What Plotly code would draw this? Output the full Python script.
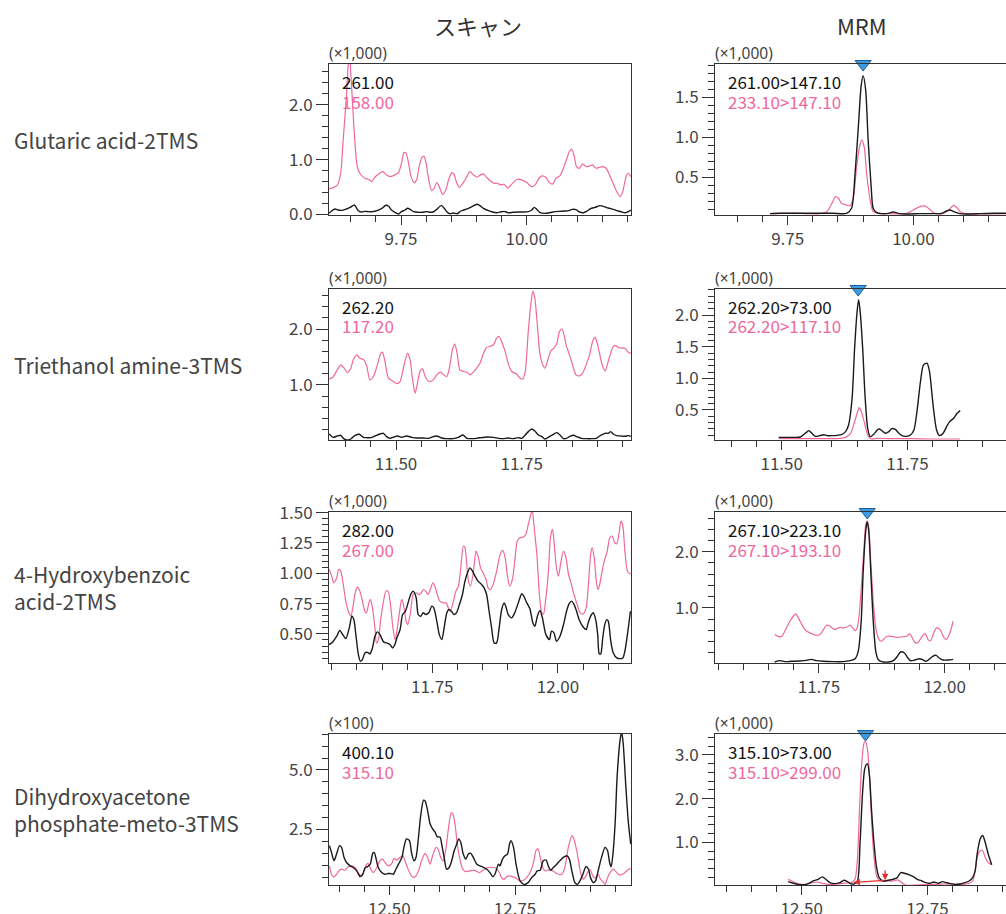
import plotly.graph_objects as go

W, H = 1006, 914
BLACK = "#1a1a1a"
PINK = "#f0679e"
FONT = "Noto Sans CJK JP"

# ---------------- data: (retention time [min], intensity) ----------------
# Row 1: Glutaric acid-2TMS  (x1,000)
glut_scan_261 = [(9.607,0.018),(9.612,0.061),(9.619,0.098),(9.625,0.079),(9.632,0.073),(9.641,0.098),(9.649,0.128),(9.657,0.171),(9.660,0.140),(9.665,0.067),(9.672,0.043),(9.678,0.055),(9.685,0.049),(9.694,0.049),(9.702,0.067),(9.712,0.110),(9.720,0.165),(9.725,0.152),(9.731,0.079),(9.738,0.037),(9.745,0.006),(9.751,0.049),(9.758,0.079),(9.763,0.110),(9.768,0.091),(9.775,0.049),(9.784,0.037),(9.793,0.037),(9.801,0.049),(9.809,0.037),(9.814,0.043),(9.821,0.091),(9.828,0.152),(9.831,0.159),(9.836,0.110),(9.841,0.049),(9.847,0.012),(9.854,0.024),(9.862,0.012),(9.869,0.061),(9.875,0.079),(9.884,0.110),(9.891,0.140),(9.901,0.183),(9.907,0.159),(9.914,0.110),(9.924,0.067),(9.932,0.043),(9.940,0.030),(9.948,0.043),(9.955,0.055),(9.963,0.030),(9.973,0.037),(9.983,0.043),(9.993,0.043),(10.003,0.049),(10.010,0.079),(10.015,0.128),(10.020,0.091),(10.026,0.037),(10.036,0.018),(10.046,0.030),(10.056,0.049),(10.066,0.055),(10.076,0.061),(10.083,0.067),(10.091,0.091),(10.098,0.085),(10.105,0.043),(10.113,0.030),(10.119,0.055),(10.127,0.104),(10.136,0.128),(10.146,0.159),(10.154,0.140),(10.162,0.116),(10.172,0.091),(10.182,0.061),(10.189,0.043),(10.196,0.030),(10.202,0.049),(10.207,0.079)]
glut_scan_158 = [(9.607,0.463),(9.615,0.488),(9.623,0.530),(9.630,0.750),(9.635,1.360),(9.641,2.091),(9.644,2.60),(9.647,2.95),(9.650,2.60),(9.654,1.970),(9.658,1.360),(9.663,0.872),(9.668,0.750),(9.678,0.659),(9.685,0.640),(9.692,0.598),(9.698,0.677),(9.705,0.732),(9.714,0.780),(9.721,0.720),(9.729,0.689),(9.738,0.720),(9.745,0.762),(9.751,0.933),(9.756,1.128),(9.760,1.116),(9.765,0.933),(9.770,0.689),(9.776,0.579),(9.781,0.628),(9.786,0.872),(9.792,1.043),(9.796,1.055),(9.800,0.933),(9.804,0.689),(9.811,0.433),(9.816,0.476),(9.821,0.579),(9.826,0.506),(9.833,0.366),(9.839,0.445),(9.845,0.640),(9.851,0.762),(9.855,0.738),(9.861,0.567),(9.866,0.494),(9.874,0.579),(9.881,0.689),(9.887,0.780),(9.894,0.720),(9.901,0.677),(9.908,0.720),(9.914,0.738),(9.920,0.677),(9.928,0.610),(9.935,0.567),(9.942,0.567),(9.947,0.537),(9.955,0.549),(9.962,0.476),(9.967,0.518),(9.975,0.598),(9.981,0.640),(9.990,0.628),(10.000,0.579),(10.010,0.506),(10.017,0.537),(10.023,0.640),(10.030,0.701),(10.038,0.677),(10.045,0.579),(10.052,0.555),(10.058,0.659),(10.066,0.701),(10.073,0.841),(10.080,1.024),(10.085,1.146),(10.089,1.189),(10.094,1.085),(10.099,0.872),(10.105,0.841),(10.111,0.921),(10.118,0.872),(10.125,0.884),(10.131,0.902),(10.138,0.841),(10.145,0.860),(10.151,0.872),(10.158,0.841),(10.166,0.689),(10.174,0.518),(10.180,0.396),(10.186,0.323),(10.191,0.415),(10.198,0.701),(10.202,0.750),(10.207,0.689)]
glut_mrm_261_147 = [(9.715,0.046),(9.735,0.050),(9.761,0.050),(9.788,0.050),(9.814,0.050),(9.841,0.050),(9.867,0.050),(9.877,0.113),(9.884,0.550),(9.891,1.175),(9.896,1.633),(9.900,1.767),(9.905,1.592),(9.910,0.967),(9.916,0.383),(9.920,0.113),(9.927,0.058),(9.937,0.046),(9.950,0.050),(9.960,0.067),(9.970,0.050),(9.987,0.042),(10.013,0.046),(10.040,0.046),(10.056,0.050),(10.066,0.079),(10.073,0.092),(10.080,0.071),(10.090,0.050),(10.106,0.042),(10.133,0.046),(10.159,0.050),(10.184,0.050),(10.21,0.050)]
glut_mrm_233_147 = [(9.715,0.046),(9.735,0.050),(9.761,0.054),(9.788,0.046),(9.814,0.046),(9.828,0.071),(9.838,0.175),(9.845,0.258),(9.851,0.238),(9.857,0.175),(9.867,0.154),(9.874,0.146),(9.881,0.258),(9.887,0.633),(9.893,0.883),(9.897,0.967),(9.902,0.883),(9.907,0.550),(9.914,0.217),(9.920,0.071),(9.930,0.050),(9.947,0.046),(9.960,0.042),(9.973,0.042),(9.987,0.050),(10.000,0.092),(10.013,0.133),(10.023,0.142),(10.030,0.113),(10.040,0.058),(10.050,0.042),(10.060,0.050),(10.070,0.092),(10.080,0.150),(10.086,0.125),(10.093,0.071),(10.103,0.046),(10.119,0.042),(10.146,0.042),(10.184,0.046),(10.21,0.046)]

# Row 2: Triethanol amine-3TMS  (x1,000)
tea_scan_262 = [(11.367,0.120),(11.375,0.060),(11.383,0.084),(11.390,0.096),(11.395,0.042),(11.402,0.012),(11.410,0.030),(11.418,0.090),(11.427,0.114),(11.435,0.060),(11.442,0.054),(11.450,0.054),(11.458,0.084),(11.468,0.120),(11.475,0.132),(11.481,0.072),(11.488,0.042),(11.496,0.066),(11.503,0.084),(11.511,0.060),(11.521,0.084),(11.531,0.060),(11.541,0.048),(11.554,0.048),(11.564,0.042),(11.574,0.072),(11.581,0.084),(11.591,0.048),(11.601,0.036),(11.614,0.036),(11.624,0.060),(11.633,0.102),(11.641,0.042),(11.650,0.036),(11.660,0.042),(11.670,0.054),(11.680,0.066),(11.694,0.060),(11.704,0.042),(11.713,0.036),(11.723,0.048),(11.733,0.036),(11.743,0.054),(11.750,0.042),(11.757,0.102),(11.763,0.162),(11.770,0.210),(11.776,0.174),(11.783,0.102),(11.790,0.072),(11.796,0.030),(11.805,0.072),(11.813,0.114),(11.820,0.144),(11.826,0.102),(11.833,0.036),(11.839,0.042),(11.846,0.078),(11.853,0.096),(11.859,0.072),(11.869,0.042),(11.879,0.036),(11.889,0.036),(11.898,0.042),(11.906,0.090),(11.916,0.132),(11.922,0.132),(11.927,0.162),(11.932,0.120),(11.939,0.090),(11.947,0.084),(11.955,0.078),(11.962,0.090),(11.967,0.078)]
tea_scan_117 = [(11.367,1.108),(11.374,1.132),(11.382,1.251),(11.390,1.359),(11.397,1.299),(11.403,1.222),(11.410,1.299),(11.415,1.449),(11.422,1.539),(11.428,1.479),(11.436,1.449),(11.442,1.329),(11.448,1.090),(11.455,1.150),(11.463,1.359),(11.470,1.569),(11.473,1.587),(11.478,1.419),(11.485,1.120),(11.495,1.060),(11.501,1.024),(11.508,1.060),(11.516,1.359),(11.523,1.569),(11.528,1.449),(11.533,1.090),(11.538,0.850),(11.542,1.000),(11.548,1.251),(11.553,1.287),(11.558,1.150),(11.566,1.060),(11.574,1.090),(11.582,1.192),(11.589,1.228),(11.595,1.180),(11.601,1.150),(11.606,1.299),(11.613,1.659),(11.617,1.731),(11.622,1.539),(11.627,1.269),(11.634,1.240),(11.641,1.228),(11.647,1.180),(11.654,1.228),(11.660,1.299),(11.667,1.389),(11.674,1.569),(11.680,1.671),(11.687,1.689),(11.694,1.719),(11.700,1.838),(11.705,1.868),(11.710,1.778),(11.717,1.599),(11.723,1.389),(11.730,1.240),(11.739,1.198),(11.747,1.120),(11.752,1.102),(11.757,1.240),(11.763,1.958),(11.768,2.437),(11.772,2.677),(11.776,2.557),(11.781,2.078),(11.786,1.569),(11.792,1.359),(11.796,1.299),(11.801,1.419),(11.808,1.611),(11.814,1.659),(11.820,1.749),(11.825,1.958),(11.830,2.006),(11.834,1.898),(11.839,1.689),(11.845,1.539),(11.851,1.359),(11.858,1.180),(11.865,1.162),(11.871,1.210),(11.878,1.359),(11.885,1.539),(11.891,1.778),(11.896,1.850),(11.900,1.749),(11.906,1.509),(11.911,1.329),(11.916,1.251),(11.920,1.359),(11.926,1.539),(11.931,1.671),(11.936,1.707),(11.942,1.671),(11.949,1.659),(11.955,1.659),(11.962,1.587),(11.967,1.569)]
tea_mrm_262_73 = [(11.494,0.066),(11.511,0.066),(11.524,0.066),(11.537,0.071),(11.547,0.130),(11.554,0.172),(11.560,0.130),(11.567,0.082),(11.576,0.093),(11.584,0.108),(11.590,0.093),(11.600,0.093),(11.610,0.098),(11.620,0.114),(11.627,0.156),(11.633,0.262),(11.640,0.685),(11.645,1.479),(11.650,2.061),(11.653,2.246),(11.656,2.061),(11.661,1.479),(11.666,0.685),(11.671,0.209),(11.676,0.077),(11.683,0.114),(11.690,0.183),(11.694,0.198),(11.700,0.167),(11.706,0.130),(11.713,0.156),(11.719,0.204),(11.726,0.193),(11.733,0.130),(11.739,0.093),(11.748,0.082),(11.756,0.103),(11.763,0.183),(11.769,0.474),(11.776,0.950),(11.782,1.214),(11.789,1.241),(11.794,1.108),(11.801,0.579),(11.808,0.183),(11.814,0.093),(11.821,0.130),(11.828,0.235),(11.834,0.315),(11.842,0.368),(11.849,0.447),(11.855,0.489)]
tea_mrm_262_117 = [(11.494,0.050),(11.524,0.045),(11.557,0.045),(11.590,0.045),(11.617,0.050),(11.627,0.066),(11.637,0.130),(11.643,0.262),(11.650,0.447),(11.654,0.537),(11.658,0.484),(11.664,0.315),(11.671,0.103),(11.678,0.040),(11.690,0.050),(11.710,0.045),(11.736,0.045),(11.763,0.045),(11.789,0.040),(11.822,0.040),(11.855,0.040)]

# Row 3: 4-Hydroxybenzoic acid-2TMS  (x1,000)
hba_scan_282 = [(11.545,0.412),(11.552,0.434),(11.560,0.481),(11.566,0.528),(11.572,0.494),(11.578,0.461),(11.585,0.550),(11.590,0.646),(11.594,0.618),(11.598,0.494),(11.603,0.329),(11.607,0.274),(11.611,0.288),(11.616,0.343),(11.621,0.348),(11.626,0.335),(11.631,0.384),(11.636,0.481),(11.641,0.517),(11.646,0.494),(11.653,0.434),(11.659,0.426),(11.666,0.412),(11.671,0.384),(11.676,0.417),(11.680,0.472),(11.686,0.536),(11.691,0.660),(11.696,0.682),(11.700,0.729),(11.707,0.825),(11.712,0.853),(11.718,0.798),(11.722,0.660),(11.727,0.646),(11.732,0.674),(11.737,0.660),(11.743,0.674),(11.749,0.729),(11.753,0.715),(11.759,0.605),(11.764,0.494),(11.769,0.453),(11.773,0.536),(11.779,0.674),(11.783,0.701),(11.788,0.687),(11.793,0.660),(11.798,0.674),(11.804,0.742),(11.810,0.825),(11.815,0.935),(11.820,1.004),(11.825,1.045),(11.830,1.018),(11.835,0.977),(11.841,0.935),(11.848,0.908),(11.853,0.880),(11.858,0.825),(11.863,0.687),(11.868,0.550),(11.873,0.426),(11.878,0.426),(11.883,0.550),(11.888,0.701),(11.893,0.756),(11.897,0.715),(11.901,0.660),(11.908,0.632),(11.914,0.674),(11.921,0.756),(11.928,0.831),(11.932,0.811),(11.938,0.756),(11.944,0.709),(11.950,0.591),(11.954,0.563),(11.959,0.646),(11.964,0.693),(11.969,0.632),(11.976,0.494),(11.983,0.453),(11.987,0.522),(11.992,0.508),(11.997,0.439),(12.004,0.481),(12.011,0.577),(12.017,0.687),(12.022,0.748),(12.027,0.770),(12.032,0.742),(12.037,0.687),(12.042,0.618),(12.049,0.563),(12.056,0.536),(12.060,0.591),(12.065,0.646),(12.070,0.674),(12.075,0.618),(12.079,0.494),(12.082,0.337),(12.085,0.335),(12.089,0.467),(12.093,0.577),(12.097,0.618),(12.100,0.605),(12.105,0.439),(12.110,0.343),(12.117,0.302),(12.123,0.296),(12.129,0.302),(12.133,0.357),(12.139,0.522),(12.144,0.687)]
hba_scan_267 = [(11.545,1.032),(11.550,0.977),(11.554,0.921),(11.560,0.963),(11.564,1.032),(11.568,1.018),(11.573,0.908),(11.578,0.770),(11.584,0.674),(11.588,0.646),(11.592,0.715),(11.596,0.825),(11.601,0.886),(11.606,0.853),(11.611,0.770),(11.616,0.687),(11.619,0.674),(11.624,0.756),(11.627,0.784),(11.631,0.715),(11.636,0.550),(11.639,0.426),(11.643,0.453),(11.647,0.605),(11.653,0.770),(11.658,0.853),(11.662,0.853),(11.667,0.742),(11.671,0.577),(11.676,0.453),(11.680,0.536),(11.686,0.715),(11.689,0.784),(11.692,0.756),(11.698,0.605),(11.701,0.577),(11.706,0.660),(11.712,0.825),(11.718,0.839),(11.722,0.825),(11.727,0.831),(11.732,0.866),(11.737,0.853),(11.741,0.825),(11.745,0.853),(11.751,0.921),(11.755,0.894),(11.760,0.825),(11.765,0.770),(11.772,0.756),(11.777,0.756),(11.782,0.715),(11.786,0.687),(11.792,0.770),(11.797,0.853),(11.802,0.894),(11.806,1.018),(11.812,1.225),(11.815,1.211),(11.818,1.101),(11.822,0.935),(11.826,0.894),(11.832,1.018),(11.837,1.183),(11.841,1.142),(11.846,1.045),(11.851,1.004),(11.857,0.949),(11.861,0.880),(11.866,0.866),(11.871,0.908),(11.878,1.018),(11.885,1.156),(11.890,1.189),(11.895,1.128),(11.899,0.990),(11.904,0.894),(11.910,0.963),(11.914,1.101),(11.919,1.266),(11.924,1.293),(11.931,1.299),(11.936,1.321),(11.941,1.404),(11.946,1.486),(11.949,1.52),(11.952,1.404),(11.958,1.156),(11.963,0.825),(11.967,0.687),(11.971,0.660),(11.976,0.798),(11.981,1.018),(11.985,1.293),(11.989,1.362),(11.992,1.266),(11.997,1.045),(12.001,0.977),(12.005,1.073),(12.011,1.183),(12.016,1.128),(12.021,0.990),(12.025,0.935),(12.030,0.853),(12.037,0.756),(12.044,0.674),(12.050,0.665),(12.056,0.715),(12.060,0.880),(12.065,1.156),(12.068,1.211),(12.072,1.128),(12.077,0.908),(12.080,0.866),(12.083,0.908),(12.089,1.045),(12.093,1.114),(12.098,1.183),(12.103,1.293),(12.108,1.307),(12.113,1.252),(12.117,1.244),(12.122,1.348),(12.125,1.431),(12.129,1.390),(12.133,1.183),(12.138,1.018),(12.142,0.996),(12.144,1.004)]
hba_mrm_267_223 = [(11.662,0.036),(11.672,0.060),(11.682,0.042),(11.696,0.048),(11.712,0.054),(11.725,0.065),(11.735,0.083),(11.745,0.060),(11.759,0.048),(11.779,0.042),(11.798,0.042),(11.812,0.060),(11.822,0.095),(11.828,0.226),(11.834,0.762),(11.838,1.655),(11.843,2.369),(11.846,2.536),(11.849,2.369),(11.853,1.655),(11.858,0.762),(11.863,0.226),(11.868,0.077),(11.875,0.042),(11.888,0.036),(11.898,0.060),(11.906,0.137),(11.912,0.214),(11.920,0.196),(11.926,0.119),(11.932,0.060),(11.941,0.071),(11.950,0.095),(11.956,0.077),(11.963,0.048),(11.969,0.083),(11.976,0.137),(11.983,0.155),(11.989,0.107),(11.997,0.071),(12.007,0.071),(12.017,0.083)]
hba_mrm_267_193 = [(11.662,0.524),(11.669,0.488),(11.676,0.494),(11.682,0.583),(11.692,0.762),(11.699,0.851),(11.704,0.893),(11.709,0.821),(11.716,0.702),(11.722,0.613),(11.732,0.554),(11.745,0.512),(11.752,0.524),(11.759,0.613),(11.765,0.690),(11.772,0.673),(11.779,0.625),(11.785,0.625),(11.792,0.655),(11.798,0.643),(11.805,0.655),(11.812,0.690),(11.817,0.643),(11.822,0.595),(11.826,0.643),(11.830,0.881),(11.835,1.476),(11.840,2.131),(11.843,2.488),(11.846,2.548),(11.849,2.429),(11.853,1.833),(11.858,1.119),(11.863,0.643),(11.868,0.464),(11.873,0.405),(11.878,0.435),(11.885,0.494),(11.895,0.494),(11.904,0.476),(11.914,0.482),(11.924,0.494),(11.930,0.536),(11.934,0.494),(11.940,0.393),(11.946,0.375),(11.951,0.435),(11.958,0.524),(11.962,0.536),(11.967,0.435),(11.972,0.417),(11.977,0.524),(11.984,0.643),(11.991,0.613),(11.997,0.494),(12.003,0.435),(12.009,0.524),(12.017,0.762)]

# Row 4: Dihydroxyacetone phosphate-meto-3TMS  (scan x100, MRM x1,000)
dhap_scan_400 = [(12.381,1.822),(12.385,1.540),(12.390,1.186),(12.395,1.469),(12.401,1.822),(12.405,1.751),(12.410,1.328),(12.415,1.116),(12.422,0.975),(12.428,0.904),(12.435,0.763),(12.442,0.523),(12.447,0.621),(12.452,0.904),(12.456,0.932),(12.462,1.045),(12.467,1.497),(12.470,1.540),(12.473,1.328),(12.478,0.904),(12.485,0.692),(12.491,0.621),(12.498,0.650),(12.503,0.650),(12.508,0.621),(12.513,0.833),(12.520,1.116),(12.525,1.328),(12.529,1.751),(12.534,2.105),(12.540,2.034),(12.544,1.540),(12.549,1.186),(12.553,1.328),(12.558,2.175),(12.562,3.023),(12.568,3.729),(12.571,3.701),(12.576,3.305),(12.581,2.740),(12.586,2.528),(12.591,2.387),(12.595,2.203),(12.601,2.175),(12.604,1.893),(12.609,1.328),(12.614,0.833),(12.619,0.904),(12.624,1.186),(12.629,1.610),(12.634,1.893),(12.638,2.105),(12.642,1.963),(12.647,1.469),(12.652,1.257),(12.657,1.469),(12.662,1.497),(12.667,1.328),(12.674,1.045),(12.680,0.975),(12.688,0.904),(12.694,0.833),(12.700,0.692),(12.706,0.523),(12.710,0.621),(12.717,1.045),(12.720,0.975),(12.725,1.257),(12.730,1.398),(12.735,1.469),(12.739,1.893),(12.742,2.034),(12.747,1.751),(12.752,1.045),(12.760,0.339),(12.768,0.198),(12.776,0.268),(12.783,0.480),(12.790,0.621),(12.794,0.763),(12.800,0.791),(12.806,1.186),(12.812,1.215),(12.816,0.975),(12.821,0.791),(12.826,0.904),(12.833,1.045),(12.839,1.186),(12.846,1.328),(12.853,1.398),(12.858,1.257),(12.863,0.763),(12.869,0.268),(12.874,0.198),(12.879,0.339),(12.885,0.621),(12.891,0.946),(12.896,0.833),(12.900,0.480),(12.906,0.268),(12.910,0.339),(12.916,0.833),(12.922,1.328),(12.929,1.751),(12.934,1.610),(12.938,1.116),(12.941,0.932),(12.944,1.328),(12.949,2.740),(12.953,4.718),(12.959,6.271),(12.962,6.60),(12.965,6.130),(12.970,4.435),(12.975,2.881),(12.980,1.893)]
dhap_scan_315 = [(12.381,0.975),(12.385,0.621),(12.390,0.508),(12.395,0.621),(12.401,0.791),(12.405,0.833),(12.412,0.791),(12.418,0.932),(12.425,0.975),(12.432,0.904),(12.438,0.692),(12.445,0.551),(12.450,0.763),(12.455,1.045),(12.458,1.073),(12.463,0.833),(12.468,0.692),(12.475,0.904),(12.481,1.186),(12.487,1.257),(12.491,1.116),(12.498,0.975),(12.505,1.073),(12.509,1.285),(12.515,1.215),(12.521,1.328),(12.527,1.398),(12.531,1.186),(12.536,0.904),(12.542,0.621),(12.548,0.480),(12.553,0.551),(12.558,0.763),(12.564,1.186),(12.571,1.497),(12.576,1.328),(12.581,1.045),(12.586,1.398),(12.593,1.751),(12.597,1.681),(12.602,1.328),(12.607,1.186),(12.612,1.610),(12.617,2.458),(12.623,3.192),(12.626,3.164),(12.631,2.669),(12.635,1.893),(12.641,1.186),(12.646,0.833),(12.652,0.734),(12.660,0.763),(12.667,0.791),(12.672,0.763),(12.679,0.692),(12.686,0.791),(12.692,0.876),(12.699,0.904),(12.706,0.904),(12.712,0.876),(12.719,0.692),(12.723,0.480),(12.728,0.410),(12.733,0.508),(12.739,0.551),(12.744,0.523),(12.750,0.480),(12.755,0.410),(12.760,0.339),(12.767,0.367),(12.773,0.480),(12.780,0.692),(12.786,1.045),(12.792,1.638),(12.796,1.681),(12.800,1.328),(12.805,0.904),(12.810,0.763),(12.816,0.791),(12.823,0.791),(12.830,0.692),(12.836,0.621),(12.843,0.621),(12.849,0.904),(12.856,1.751),(12.863,2.246),(12.867,2.105),(12.874,1.469),(12.881,0.621),(12.886,0.410),(12.891,0.551),(12.896,0.763),(12.899,0.819),(12.902,0.692),(12.906,0.508),(12.910,0.480),(12.916,0.593),(12.920,0.410),(12.926,0.268),(12.929,0.198),(12.934,0.480),(12.939,0.692),(12.946,0.833),(12.951,0.720),(12.957,0.593),(12.964,0.621),(12.971,0.734),(12.975,0.819),(12.980,0.847)]
dhap_mrm_315_73 = [(12.473,0.100),(12.483,0.062),(12.493,0.038),(12.503,0.031),(12.513,0.054),(12.523,0.115),(12.533,0.154),(12.541,0.208),(12.548,0.154),(12.556,0.077),(12.566,0.054),(12.576,0.077),(12.584,0.131),(12.591,0.100),(12.597,0.054),(12.604,0.046),(12.611,0.115),(12.616,0.962),(12.621,2.115),(12.625,2.654),(12.628,2.769),(12.631,2.792),(12.635,2.500),(12.639,1.731),(12.644,0.962),(12.649,0.423),(12.654,0.192),(12.662,0.115),(12.672,0.131),(12.682,0.154),(12.690,0.192),(12.697,0.308),(12.706,0.285),(12.714,0.254),(12.722,0.215),(12.730,0.154),(12.739,0.115),(12.747,0.077),(12.755,0.062),(12.763,0.092),(12.772,0.062),(12.780,0.100),(12.788,0.077),(12.796,0.054),(12.805,0.038),(12.815,0.046),(12.825,0.077),(12.833,0.115),(12.840,0.192),(12.845,0.346),(12.849,0.731),(12.855,1.077),(12.860,1.154),(12.865,1.000),(12.871,0.731),(12.878,0.485)]
dhap_mrm_315_299 = [(12.473,0.154),(12.480,0.115),(12.490,0.062),(12.500,0.038),(12.510,0.038),(12.520,0.069),(12.530,0.092),(12.540,0.062),(12.550,0.038),(12.563,0.038),(12.576,0.054),(12.590,0.069),(12.599,0.077),(12.606,0.154),(12.611,0.654),(12.615,1.731),(12.619,2.731),(12.624,3.269),(12.627,3.308),(12.631,3.115),(12.635,2.500),(12.639,1.500),(12.644,0.654),(12.649,0.231),(12.656,0.115),(12.669,0.115),(12.682,0.115),(12.690,0.138),(12.697,0.100),(12.706,0.023),(12.715,0.015),(12.729,0.023),(12.742,0.031),(12.755,0.038),(12.769,0.038),(12.782,0.046),(12.795,0.046),(12.808,0.038),(12.822,0.038),(12.833,0.062),(12.840,0.115),(12.845,0.346),(12.849,0.654),(12.855,0.808),(12.860,0.808),(12.865,0.654),(12.871,0.538),(12.878,0.485)]
dhap_baseline_t = [12.603, 12.666]
dhap_baseline_y = [0.08, 0.13]
dhap_baseline_drop = 0.39

# peak-top markers (retention time of the target peak)
peak_rt = [9.900, 11.652, 11.846, 12.627]

row_names = ["Glutaric acid-2TMS", "Triethanol amine-3TMS",
             "4-Hydroxybenzoic<br>acid-2TMS", "Dihydroxyacetone<br>phosphate-meto-3TMS"]
col_titles = ["スキャン", "MRM"]
scan_labels = [("261.00", "158.00"), ("262.20", "117.20"), ("282.00", "267.00"), ("400.10", "315.10")]
mrm_labels = [("261.00>147.10", "233.10>147.10"), ("262.20>73.00", "262.20>117.10"),
              ("267.10>223.10", "267.10>193.10"), ("315.10>73.00", "315.10>299.00")]
scan_scale = ["(×1,000)", "(×1,000)", "(×1,000)", "(×100)"]
mrm_scale = ["(×1,000)", "(×1,000)", "(×1,000)", "(×1,000)"]

# ---------------- layout geometry (pixels) ----------------
COL_L = [329, 715]
COL_R = [631, 1006]
ROW_T = [64, 289, 512, 734]
PH = 151

def px(x):
    return x / W

def py(y):
    return 1 - y / H

panels = [
    dict(s=[glut_scan_158, glut_scan_261], lab=scan_labels[0], sc=scan_scale[0], xr=[9.6068, 10.2074], yr=[-0.012, 2.744], dt=1.0, mdt=0.2, fmt=".1f", mk=None, mirror_y=True),
    dict(s=[glut_mrm_233_147, glut_mrm_261_147], lab=mrm_labels[0], sc=mrm_scale[0], xr=[9.6054, 10.1842], yr=[0.029, 1.9125], dt=0.5, mdt=0.1, fmt=".1f", mk=peak_rt[0], mirror_y=False),
    dict(s=[tea_scan_117, tea_scan_262], lab=scan_labels[1], sc=scan_scale[1], xr=[11.3667, 11.9673], yr=[0.012, 2.719], dt=1.0, mdt=0.2, fmt=".1f", mk=None, mirror_y=True),
    dict(s=[tea_mrm_262_117, tea_mrm_262_73], lab=mrm_labels[1], sc=mrm_scale[1], xr=[11.3673, 11.9461], yr=[0.024, 2.415], dt=0.5, mdt=0.1, fmt=".1f", mk=peak_rt[1], mirror_y=False),
    dict(s=[hba_scan_267, hba_scan_282], lab=scan_labels[2], sc=scan_scale[2], xr=[11.5446, 12.1452], yr=[0.26, 1.5055], dt=0.25, mdt=0.05, fmt=".2f", mk=None, mirror_y=True),
    dict(s=[hba_mrm_267_193, hba_mrm_267_223], lab=mrm_labels[2], sc=mrm_scale[2], xr=[11.5432, 12.1220], yr=[0.018, 2.708], dt=1.0, mdt=0.2, fmt=".1f", mk=peak_rt[2], mirror_y=False),
    dict(s=[dhap_scan_315, dhap_scan_400], lab=scan_labels[3], sc=scan_scale[3], xr=[12.3800, 12.9806], yr=[0.17, 6.51], dt=2.5, mdt=0.5, fmt=".1f", mk=None, mirror_y=True),
    dict(s=[dhap_mrm_315_299, dhap_mrm_315_73], lab=mrm_labels[3], sc=mrm_scale[3], xr=[12.3276, 12.9064], yr=[0.023, 3.477], dt=1.0, mdt=0.2, fmt=".1f", mk=peak_rt[3], mirror_y=False),
]

fig = go.Figure()
annotations = []
layout = {}
AX = "#333333"
TXT = "#444444"

for i, p in enumerate(panels):
    n = i + 1
    row, col = i // 2, i % 2
    xa = "x" if n == 1 else f"x{n}"
    ya = "y" if n == 1 else f"y{n}"
    xkey = "xaxis" if n == 1 else f"xaxis{n}"
    ykey = "yaxis" if n == 1 else f"yaxis{n}"
    L, R, T = COL_L[col], COL_R[col], ROW_T[row]
    B = T + PH
    layout[xkey] = dict(domain=[px(L), px(R)], anchor=ya, range=p["xr"], showgrid=False, zeroline=False,
                        automargin=False,
                        showline=True, linecolor=AX, linewidth=1, mirror=True,
                        ticks="outside", ticklen=9, tickcolor=AX, tick0=0, dtick=0.25, tickformat=".2f",
                        tickfont=dict(family=FONT, size=17, color=TXT),
                        minor=dict(dtick=0.05, ticklen=6, ticks="outside", tickcolor=AX, showgrid=False))
    layout[ykey] = dict(domain=[py(B), py(T)], anchor=xa, range=p["yr"], showgrid=False, zeroline=False,
                        automargin=False,
                        showline=True, linecolor=AX, linewidth=1, mirror=p["mirror_y"],
                        ticks="outside", ticklen=12, tickcolor=AX, tick0=0, dtick=p["dt"], tickformat=p["fmt"],
                        tickfont=dict(family=FONT, size=17, color=TXT),
                        minor=dict(dtick=p["mdt"], ticklen=6, ticks="outside", tickcolor=AX, showgrid=False))
    for data, color, w in zip(p["s"], [PINK, BLACK], [1.2, 1.4]):
        fig.add_trace(go.Scatter(x=[d[0] for d in data], y=[d[1] for d in data], mode="lines",
                                 line=dict(color=color, width=w, shape="spline", smoothing=0.7),
                                 xaxis=xa, yaxis=ya, showlegend=False, hoverinfo="skip"))
    if p["mk"] is not None:
        fig.add_trace(go.Scatter(x=[p["mk"]], y=[p["yr"][1]], mode="markers", cliponaxis=False,
                                 marker=dict(symbol="triangle-down", size=14, color="#3d9be0",
                                             line=dict(color="#1f5f9e", width=1)),
                                 xaxis=xa, yaxis=ya, showlegend=False, hoverinfo="skip"))
    # scale label and channel labels
    annotations.append(dict(x=px(L - 2), y=py(T - 11), xref="paper", yref="paper", text=p["sc"],
                            showarrow=False, xanchor="left", yanchor="middle",
                            font=dict(family="Noto Sans", size=15.5, color=TXT)))
    annotations.append(dict(x=px(L + 11), y=py(T + 17), xref="paper", yref="paper", text=p["lab"][0],
                            showarrow=False, xanchor="left", yanchor="middle",
                            font=dict(family=FONT, size=17, color="#111111")))
    annotations.append(dict(x=px(L + 11), y=py(T + 37), xref="paper", yref="paper", text=p["lab"][1],
                            showarrow=False, xanchor="left", yanchor="middle",
                            font=dict(family=FONT, size=17, color=PINK)))

# baseline arrows in the last MRM panel
annotations.append(dict(x=dhap_baseline_t[0], y=dhap_baseline_y[0], ax=dhap_baseline_t[1], ay=dhap_baseline_y[1],
                        xref="x8", yref="y8", axref="x8", ayref="y8", text="", showarrow=True,
                        arrowhead=2, arrowsize=1, arrowwidth=1.3, arrowcolor="#e53030"))
annotations.append(dict(x=dhap_baseline_t[1], y=dhap_baseline_y[1], ax=dhap_baseline_t[1], ay=dhap_baseline_drop,
                        xref="x8", yref="y8", axref="x8", ayref="y8", text="", showarrow=True,
                        arrowhead=2, arrowsize=1, arrowwidth=1.3, arrowcolor="#e53030"))

# column titles
for cx, t in zip([478, 862], col_titles):
    annotations.append(dict(x=px(cx), y=py(25), xref="paper", yref="paper", text=t, showarrow=False,
                            xanchor="center", yanchor="middle", font=dict(family=FONT, size=22, color="#333333")))
# row labels
for r, name in enumerate(row_names):
    annotations.append(dict(x=px(12), y=py(ROW_T[r] + PH / 2), xref="paper", yref="paper", text=name,
                            showarrow=False, xanchor="left", yanchor="middle", align="left",
                            font=dict(family=FONT, size=21, color="#444444")))

fig.update_layout(width=W, height=H, margin=dict(l=0, r=0, t=0, b=0, autoexpand=False), paper_bgcolor="white",
                  plot_bgcolor="white", annotations=annotations, font=dict(family=FONT), **layout)
fig.write_html("out.html", config={"displayModeBar": False},
               post_script="document.body.style.margin='0';document.body.style.overflow='hidden';")
